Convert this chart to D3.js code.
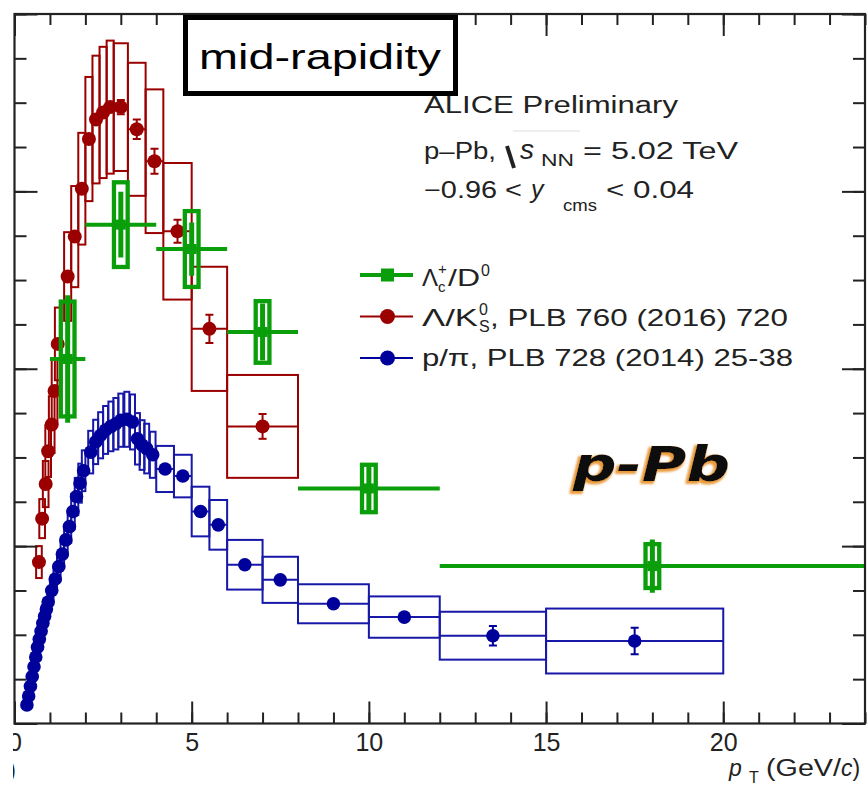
<!DOCTYPE html>
<html><head><meta charset="utf-8">
<script src="https://cdn.jsdelivr.net/npm/d3@7"></script>
<style>body{margin:0;background:#fff}svg{display:block}</style>
</head><body>
<svg id="c" width="867" height="794"></svg>
<script>
// ---------------- DATA ----------------
const xMajorTicks = [0, 5, 10, 15, 20];
const xTickLabels = ["0", "5", "10", "15", "20"];
const xMinorTicks = d3.range(0, 25, 1);
const yMajorTicks = [0, 0.2, 0.4, 0.6, 0.8];
const yMinorTicks = d3.range(0, 0.81, 0.05);

// Lambda_c+/D0 (green)
const lcPt   = [1.5, 3, 5, 7, 10, 18];
const lcLo   = [1, 2, 4, 6, 8, 12];
const lcHi   = [2, 4, 6, 8, 12, 24];
const lcVal  = [0.411, 0.5625, 0.535, 0.4415, 0.265, 0.1775];
const lcSys  = [0.067, 0.050, 0.045, 0.037, 0.029, 0.027];
const lcStat = [0.072, 0.037, 0.030, 0.032, 0.025, 0.030];

// Lambda/K0S (red)
const lkPt   = [0.69, 0.78, 0.88, 0.95, 1.05, 1.13, 1.22, 1.5, 1.7, 1.9, 2.1, 2.3, 2.5, 2.7, 3.0, 3.45, 3.95, 4.6, 5.5, 7.0];
const lkLo   = [0.61, 0.70, 0.80, 0.87, 0.97, 1.05, 1.14, 1.4, 1.6, 1.8, 2.0, 2.2, 2.4, 2.6, 2.8, 3.2, 3.7, 4.2, 5.0, 6.0];
const lkHi   = [0.77, 0.86, 0.96, 1.03, 1.13, 1.21, 1.30, 1.6, 1.8, 2.0, 2.2, 2.4, 2.6, 2.8, 3.2, 3.7, 4.2, 5.0, 6.0, 8.0];
const lkVal  = [0.182, 0.231, 0.270, 0.307, 0.337, 0.375, 0.428, 0.504, 0.549, 0.603, 0.659, 0.681, 0.689, 0.695, 0.695, 0.670, 0.634, 0.555, 0.445, 0.335];
const lkSys  = [0.018, 0.022, 0.026, 0.029, 0.032, 0.036, 0.041, 0.050, 0.057, 0.063, 0.070, 0.072, 0.074, 0.075, 0.072, 0.075, 0.081, 0.077, 0.070, 0.058];
const lkStat = [0.004, 0.004, 0.004, 0.004, 0.004, 0.004, 0.005, 0.005, 0.005, 0.006, 0.006, 0.006, 0.007, 0.007, 0.008, 0.011, 0.014, 0.013, 0.016, 0.014];

// p/pi (blue)
const ppPt   = [0.35, 0.40, 0.45, 0.50, 0.55, 0.60, 0.65, 0.70, 0.75, 0.80, 0.85, 0.90, 0.95,
                1.05, 1.15, 1.25, 1.35, 1.45, 1.55, 1.65, 1.75, 1.85, 1.95,
                2.15, 2.29, 2.43, 2.57, 2.72, 2.86, 3.0, 3.17, 3.33, 3.47, 3.60, 3.73, 3.90,
                4.25, 4.75, 5.25, 5.75, 6.5, 7.5, 9.0, 11.0, 13.5, 17.5];
const ppLo   = [0.325, 0.375, 0.425, 0.475, 0.525, 0.575, 0.625, 0.675, 0.725, 0.775, 0.825, 0.875, 0.925,
                1.0, 1.1, 1.2, 1.3, 1.4, 1.5, 1.6, 1.7, 1.8, 1.9,
                2.08, 2.22, 2.36, 2.50, 2.65, 2.79, 2.93, 3.10, 3.26, 3.40, 3.53, 3.66, 3.82,
                4.0, 4.5, 5.0, 5.5, 6, 7, 8, 10, 12, 15];
const ppHi   = [0.375, 0.425, 0.475, 0.525, 0.575, 0.625, 0.675, 0.725, 0.775, 0.825, 0.875, 0.925, 0.975,
                1.1, 1.2, 1.3, 1.4, 1.5, 1.6, 1.7, 1.8, 1.9, 2.0,
                2.22, 2.36, 2.50, 2.64, 2.79, 2.93, 3.07, 3.24, 3.40, 3.54, 3.67, 3.80, 3.98,
                4.5, 5.0, 5.5, 6.0, 7, 8, 10, 12, 15, 20];
const ppVal  = [0.021, 0.031, 0.042, 0.053, 0.064, 0.075, 0.086, 0.095, 0.104, 0.113, 0.121, 0.129, 0.137,
                0.150, 0.163, 0.177, 0.191, 0.207, 0.222, 0.239, 0.256, 0.271, 0.285,
                0.306, 0.3175, 0.325, 0.331, 0.335, 0.338, 0.342, 0.343, 0.340, 0.321, 0.314, 0.310, 0.303,
                0.287, 0.279, 0.239, 0.224, 0.179, 0.162, 0.135, 0.120, 0.099, 0.093];
const ppSys  = [0.002, 0.003, 0.004, 0.005, 0.006, 0.007, 0.008, 0.009, 0.009, 0.010, 0.011, 0.012, 0.012,
                0.013, 0.014, 0.015, 0.016, 0.017, 0.018, 0.020, 0.021, 0.022, 0.023,
                0.024, 0.025, 0.026, 0.027, 0.028, 0.029, 0.030, 0.031, 0.031, 0.029, 0.028, 0.028, 0.026,
                0.026, 0.024, 0.028, 0.028, 0.028, 0.026, 0.022, 0.0233, 0.027, 0.0366];
const ppStat = [0.001, 0.001, 0.001, 0.001, 0.001, 0.001, 0.001, 0.001, 0.001, 0.001, 0.001, 0.001, 0.001,
                0.001, 0.001, 0.001, 0.001, 0.001, 0.001, 0.001, 0.001, 0.001, 0.001,
                0.002, 0.002, 0.002, 0.002, 0.002, 0.002, 0.002, 0.002, 0.002, 0.002, 0.002, 0.002, 0.002,
                0.003, 0.003, 0.003, 0.003, 0.004, 0.004, 0.005, 0.006, 0.011, 0.015];

const legendLabels = ["Λc+/D0", "Λ/K0S, PLB 760 (2016) 720", "p/π, PLB 728 (2014) 25-38"];

// ---------------- STYLE ----------------
const RED = "#9b0000", BLUE = "#00009a", BLUEBOX = "#1717a8", GREEN = "#0a9e0a";
const FONT = "'Liberation Sans', Arial, Helvetica, sans-serif";

const svg = d3.select("#c");
const defs = svg.append("defs");
const L = 14.5, R = 865, T = 14, B = 723.5;
const x = d3.scaleLinear().domain([0, 24]).range([L, R]);
const y = d3.scaleLinear().domain([0, 0.8]).range([B, T]);

defs.append("clipPath").attr("id", "plot").append("rect")
  .attr("x", L).attr("y", T).attr("width", R - L).attr("height", B - T);
defs.append("clipPath").attr("id", "page").append("rect")
  .attr("x", 13).attr("y", 0).attr("width", 867 - 13).attr("height", 794);
const sh = defs.append("filter").attr("id", "shadow").attr("x", "-15%").attr("y", "-25%").attr("width", "130%").attr("height", "150%");
sh.append("feMorphology").attr("in", "SourceAlpha").attr("operator", "dilate").attr("radius", 1).attr("result", "d");
sh.append("feOffset").attr("in", "d").attr("dx", -2).attr("dy", 2).attr("result", "o");
sh.append("feGaussianBlur").attr("in", "o").attr("stdDeviation", 1).attr("result", "b");
sh.append("feFlood").attr("flood-color", "#e89a3a").attr("result", "f");
sh.append("feComposite").attr("in", "f").attr("in2", "b").attr("operator", "in").attr("result", "s");
const fm = sh.append("feMerge");
fm.append("feMergeNode").attr("in", "s");
fm.append("feMergeNode").attr("in", "SourceGraphic");

const root = svg.append("g").attr("clip-path", "url(#page)");
const plot = root.append("g").attr("clip-path", "url(#plot)");

function zip(pt, lo, hi, v, sys, st) {
  return pt.map((p, i) => ({ pt: p, lo: lo[i], hi: hi[i], v: v[i], sys: sys[i], st: st[i] }));
}
const lk = zip(lkPt, lkLo, lkHi, lkVal, lkSys, lkStat);
const pp = zip(ppPt, ppLo, ppHi, ppVal, ppSys, ppStat);
const lc = zip(lcPt, lcLo, lcHi, lcVal, lcSys, lcStat);

function drawBoxSeries(g, data, boxColor) {
  g.selectAll("rect.sys").data(data).join("rect").attr("class", "sys")
    .attr("x", d => x(d.lo)).attr("width", d => x(d.hi) - x(d.lo))
    .attr("y", d => y(d.v + d.sys)).attr("height", d => y(d.v - d.sys) - y(d.v + d.sys))
    .attr("fill", "none").attr("stroke", boxColor).attr("stroke-width", 2);
  g.selectAll("line.xe").data(data).join("line").attr("class", "xe")
    .attr("x1", d => x(d.lo)).attr("x2", d => x(d.hi))
    .attr("y1", d => y(d.v)).attr("y2", d => y(d.v))
    .attr("stroke", boxColor).attr("stroke-width", 2);
}
function drawPoints(g, data, color, r) {
  g.selectAll("line.ye").data(data).join("line").attr("class", "ye")
    .attr("x1", d => x(d.pt)).attr("x2", d => x(d.pt))
    .attr("y1", d => y(d.v + d.st)).attr("y2", d => y(d.v - d.st))
    .attr("stroke", color).attr("stroke-width", 2);
  ["u", "d"].forEach(s => {
    g.selectAll("line.cap" + s).data(data.filter(d => y(d.v - d.st) - y(d.v + d.st) > 2 * r))
      .join("line").attr("class", "cap" + s)
      .attr("x1", d => x(d.pt) - 4).attr("x2", d => x(d.pt) + 4)
      .attr("y1", d => y(s === "u" ? d.v + d.st : d.v - d.st))
      .attr("y2", d => y(s === "u" ? d.v + d.st : d.v - d.st))
      .attr("stroke", color).attr("stroke-width", 2);
  });
  g.selectAll("circle").data(data).join("circle")
    .attr("cx", d => x(d.pt)).attr("cy", d => y(d.v)).attr("r", r).attr("fill", color);
}

const gRed = plot.append("g");
drawBoxSeries(gRed, lk, RED);
drawPoints(gRed.append("g"), lk, RED, 7);
const gBlue = plot.append("g");
drawBoxSeries(gBlue, pp, BLUEBOX);
drawPoints(gBlue.append("g"), pp, BLUE, 6.8);

// green: horizontal bin bar, thick box, stat bar
const gG = plot.append("g");
const halfBox = 0.25;
gG.selectAll("line.h").data(lc).join("line").attr("class", "h")
  .attr("x1", d => x(d.lo)).attr("x2", d => x(d.hi)).attr("y1", d => y(d.v)).attr("y2", d => y(d.v))
  .attr("stroke", GREEN).attr("stroke-width", 4);
gG.selectAll("rect").data(lc).join("rect")
  .attr("x", d => x(d.pt - halfBox) + 2).attr("width", d => x(d.pt + halfBox) - x(d.pt - halfBox) - 4)
  .attr("y", d => y(d.v + d.sys) + 2).attr("height", d => y(d.v - d.sys) - y(d.v + d.sys) - 4)
  .attr("fill", "none").attr("stroke", GREEN).attr("stroke-width", 4.3);
gG.selectAll("line.v").data(lc).join("line").attr("class", "v")
  .attr("x1", d => x(d.pt)).attr("x2", d => x(d.pt)).attr("y1", d => y(d.v + d.st)).attr("y2", d => y(d.v - d.st))
  .attr("stroke", GREEN).attr("stroke-width", 5);
gG.selectAll("rect.m").data(lc).join("rect").attr("class", "m")
  .attr("x", d => x(d.pt) - 5).attr("y", d => y(d.v) - 5).attr("width", 10).attr("height", 10).attr("fill", GREEN);

// ---------------- AXES ----------------
const axCol = "#222";
function styleAxis(g) {
  g.select(".domain").remove();
  g.selectAll(".tick line").attr("stroke", axCol).attr("stroke-width", 2);
}
root.append("g").attr("transform", `translate(0,${B})`)
  .call(d3.axisBottom(x).tickValues(xMinorTicks).tickSize(-11).tickFormat(""))
  .call(styleAxis);
const xb = root.append("g").attr("transform", `translate(0,${B})`)
  .call(d3.axisBottom(x).tickValues(xMajorTicks).tickSize(-22).tickPadding(10).tickFormat((d, i) => xTickLabels[i]))
  .call(styleAxis);
xb.selectAll("text").attr("font-family", FONT).attr("font-size", 25).attr("fill", "#222")
  .attr("dy", null).attr("y", 27);
root.append("g").attr("transform", `translate(0,${T})`)
  .call(d3.axisTop(x).tickValues(xMinorTicks).tickSize(-11).tickFormat("")).call(styleAxis);
root.append("g").attr("transform", `translate(0,${T})`)
  .call(d3.axisTop(x).tickValues(xMajorTicks).tickSize(-22).tickFormat("")).call(styleAxis);
root.append("g").attr("transform", `translate(${L},0)`)
  .call(d3.axisLeft(y).tickValues(yMinorTicks).tickSize(-12).tickFormat("")).call(styleAxis);
root.append("g").attr("transform", `translate(${L},0)`)
  .call(d3.axisLeft(y).tickValues(yMajorTicks).tickSize(-23).tickFormat("")).call(styleAxis);
root.append("g").attr("transform", `translate(${R},0)`)
  .call(d3.axisRight(y).tickValues(yMinorTicks).tickSize(-12).tickFormat("")).call(styleAxis);
root.append("g").attr("transform", `translate(${R},0)`)
  .call(d3.axisRight(y).tickValues(yMajorTicks).tickSize(-23).tickFormat("")).call(styleAxis);
root.append("rect").attr("x", L).attr("y", T).attr("width", R - L).attr("height", B - T)
  .attr("fill", "none").attr("stroke", axCol).attr("stroke-width", 2.2);

// x title (one text element)
const tcol = "#222";
const xt = root.append("text").attr("font-family", FONT).attr("font-size", 23).attr("fill", tcol).attr("y", 776);
xt.append("tspan").attr("x", 729).attr("font-style", "italic").text("p");
xt.append("tspan").attr("x", 749).attr("y", 783).attr("font-size", 16).text("T");
xt.append("tspan").attr("x", 766).attr("y", 776).attr("textLength", 75).attr("lengthAdjust", "spacingAndGlyphs").text("(GeV/");
xt.append("tspan").attr("font-style", "italic").text("c");
xt.append("tspan").text(")");
root.append("text").attr("font-family", FONT).attr("font-size", 23).attr("fill", tcol)
  .attr("x", 16).attr("y", 778).attr("text-anchor", "end").text(")");

// ---------------- TEXT ----------------
root.append("rect").attr("x", 185.5).attr("y", 17.5).attr("width", 270).attr("height", 76)
  .attr("fill", "#fff").attr("stroke", "#000").attr("stroke-width", 5);
root.append("text").attr("x", 199).attr("y", 69).attr("font-family", FONT).attr("font-size", 35)
  .attr("fill", "#000").attr("textLength", 242).attr("lengthAdjust", "spacingAndGlyphs").text("mid-rapidity");

root.append("text").attr("x", 424).attr("y", 113).attr("font-family", FONT).attr("font-size", 23)
  .attr("fill", tcol).attr("textLength", 254).attr("lengthAdjust", "spacingAndGlyphs").text("ALICE Preliminary");

const l2 = root.append("g").attr("font-family", FONT).attr("font-size", 23).attr("fill", tcol);
l2.append("text").attr("x", 424).attr("y", 159).attr("textLength", 72).attr("lengthAdjust", "spacingAndGlyphs").text("p–Pb,");
l2.append("path").attr("d", "M507,146 L514,168").attr("stroke", tcol).attr("stroke-width", 4).attr("fill", "none");
l2.append("path").attr("d", "M513,131 L580,131").attr("stroke", "#ddd").attr("stroke-width", 1).attr("fill", "none");
const sTxt = l2.append("text").attr("y", 159);
sTxt.append("tspan").attr("x", 520).attr("font-style", "italic").attr("font-size", 28).text("s");
sTxt.append("tspan").attr("x", 541).attr("y", 166).attr("font-size", 17).attr("textLength", 33).attr("lengthAdjust", "spacingAndGlyphs").text("NN");
l2.append("text").attr("x", 583).attr("y", 159).attr("textLength", 155).attr("lengthAdjust", "spacingAndGlyphs").text("= 5.02 TeV");

const l3 = root.append("g").attr("font-family", FONT).attr("font-size", 23).attr("fill", tcol);
l3.append("text").attr("x", 424).attr("y", 198).attr("textLength", 98).attr("lengthAdjust", "spacingAndGlyphs").text("−0.96 <");
const yTxt = l3.append("text").attr("y", 198);
yTxt.append("tspan").attr("x", 531).attr("font-style", "italic").attr("font-size", 25).text("y");
yTxt.append("tspan").attr("x", 563).attr("y", 211).attr("font-size", 17).attr("textLength", 34).attr("lengthAdjust", "spacingAndGlyphs").text("cms");
l3.append("text").attr("x", 606).attr("y", 198).attr("textLength", 88).attr("lengthAdjust", "spacingAndGlyphs").text("< 0.04");

// ---------------- LEGEND ----------------
const legY = [275, 316.5, 358];
const lg = root.append("g");
lg.append("line").attr("x1", 360).attr("x2", 413).attr("y1", legY[0]).attr("y2", legY[0]).attr("stroke", GREEN).attr("stroke-width", 4);
lg.append("rect").attr("x", 381).attr("y", legY[0] - 6.5).attr("width", 13).attr("height", 13).attr("fill", GREEN);
lg.append("line").attr("x1", 360).attr("x2", 413).attr("y1", legY[1]).attr("y2", legY[1]).attr("stroke", RED).attr("stroke-width", 2);
lg.append("circle").attr("cx", 387.5).attr("cy", legY[1]).attr("r", 7.5).attr("fill", RED);
lg.append("line").attr("x1", 360).attr("x2", 413).attr("y1", legY[2]).attr("y2", legY[2]).attr("stroke", BLUE).attr("stroke-width", 2);
lg.append("circle").attr("cx", 387.5).attr("cy", legY[2]).attr("r", 7.5).attr("fill", BLUE);

const lt = lg.append("g").attr("font-family", FONT).attr("font-size", 24).attr("fill", tcol);
// entry 1: Λc+/D0 (one text, positioned tspans)
const e1 = lt.append("text").attr("y", legY[0] + 11);
e1.append("tspan").attr("x", 422).text(legendLabels[0].slice(0, 1));
e1.append("tspan").attr("x", 438).attr("y", legY[0] + 17).attr("font-size", 15).text(legendLabels[0].slice(1, 2));
e1.append("tspan").attr("x", 438).attr("y", legY[0] - 1).attr("font-size", 15).text(legendLabels[0].slice(2, 3));
e1.append("tspan").attr("x", 448).attr("y", legY[0] + 11).attr("textLength", 32).attr("lengthAdjust", "spacingAndGlyphs").text(legendLabels[0].slice(3, 5));
e1.append("tspan").attr("x", 481).attr("y", legY[0] + 1).attr("font-size", 16).text(legendLabels[0].slice(5, 6));
// entry 2: Λ/K0S, ...
const e2 = lt.append("text").attr("y", legY[1] + 9);
e2.append("tspan").attr("x", 422).attr("textLength", 56).attr("lengthAdjust", "spacingAndGlyphs").text(legendLabels[1].slice(0, 3));
e2.append("tspan").attr("x", 479).attr("y", legY[1] - 2).attr("font-size", 16).text(legendLabels[1].slice(3, 4));
e2.append("tspan").attr("x", 479).attr("y", legY[1] + 15).attr("font-size", 16).text(legendLabels[1].slice(4, 5));
e2.append("tspan").attr("x", 490).attr("y", legY[1] + 9).attr("textLength", 298).attr("lengthAdjust", "spacingAndGlyphs").text(legendLabels[1].slice(5));
// entry 3
lt.append("text").attr("x", 422).attr("y", legY[2] + 8).attr("textLength", 371).attr("lengthAdjust", "spacingAndGlyphs").text(legendLabels[2]);

// ---------------- p-Pb label ----------------
root.append("text").attr("x", 573).attr("y", 481).attr("font-family", "'DejaVu Sans', sans-serif")
  .attr("font-size", 48).attr("font-style", "italic").attr("font-weight", "bold")
  .attr("textLength", 157).attr("lengthAdjust", "spacingAndGlyphs")
  .attr("fill", "#111").attr("filter", "url(#shadow)").text("p-Pb");
</script>
</body></html>
